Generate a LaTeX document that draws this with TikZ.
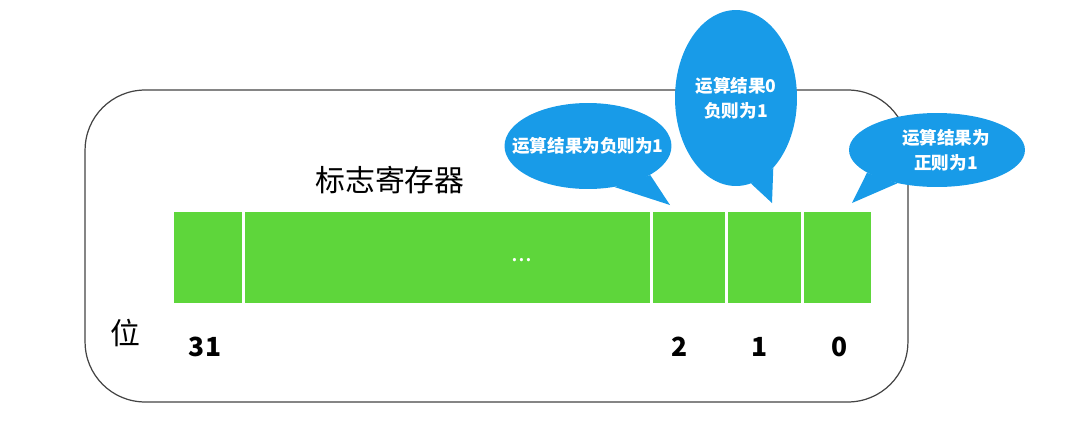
\documentclass[tikz,border=0pt]{standalone}
\usepackage{fontspec}
\setmainfont{Noto Sans CJK SC}
\usepackage{xcolor}
\usepackage{tikz}
\usetikzlibrary{shapes.geometric, positioning}
\definecolor{cellgreen}{HTML}{5ED63B}
\definecolor{bubbleblue}{HTML}{189BE8}
\definecolor{framegray}{HTML}{444444}
\tikzset{
  frame/.style={rectangle, draw=framegray, line width=0.7pt, rounded corners=1.2cm},
  cell/.style={rectangle, fill=cellgreen, inner sep=0pt, outer sep=0pt, minimum height=1.82cm},
  bubble/.style={ellipse, fill=bubbleblue, inner sep=0pt},
  bubbletext/.style={text=white, align=center, font=\fontsize{10}{14.5}\selectfont\bfseries},
  bitnum/.style={font=\fontsize{15}{18}\selectfont\bfseries},
  regtitle/.style={font=\fontsize{17}{20}\selectfont},
  dots/.style={text=white, font=\fontsize{14}{16}\selectfont},
}

\begin{document}
\begin{tikzpicture}[x=0.02cm, y=-0.02cm]
  \useasboundingbox (0,0) rectangle (1080,427);
  \node[frame, minimum width=16.46cm, minimum height=6.24cm] (reg) at (496.5,246) {};
  \node[regtitle] (regname) at (390,180) {标志寄存器};
  % register bits
  \node[cell, minimum width=1.36cm] (b31) at (208,257.5) {};
  \node[cell, minimum width=8.1cm, right=0.06cm of b31] (bmid) {};
  \node[cell, minimum width=1.44cm, right=0.06cm of bmid] (b2) {};
  \node[cell, minimum width=1.46cm, right=0.06cm of b2] (b1) {};
  \node[cell, minimum width=1.34cm, right=0.06cm of b1] (b0) {};
  \node[dots] (more) at (522,260) {...};
  % bit numbers
  \node[regtitle] (wei) at (125,333) {位};
  \node[bitnum] (n31) at (205,347) {31};
  \node[bitnum] (n2) at (680,347) {2};
  \node[bitnum] (n1) at (760,347) {1};
  \node[bitnum] (n0) at (840,347) {0};
  % speech bubbles
  \node[bubble, minimum width=3.34cm, minimum height=1.72cm,
        label={[bubbletext]center:运算结果为负则为1}] (neg) at (588,146) {};
  \coordinate (negtip) at (670,205);
  \fill[bubbleblue] (neg.-57) -- (negtip) -- (neg.-25) -- cycle;
  \node[bubble, minimum width=2.44cm, minimum height=3.52cm,
        label={[bubbletext]center:{运算结果0\\负则为1}}] (zero) at (736,98) {};
  \coordinate (zerotip) at (772,203);
  \fill[bubbleblue] (zero.-80) -- (zerotip) -- (zero.-62) -- cycle;
  \node[bubble, minimum width=3.52cm, minimum height=1.48cm,
        label={[bubbletext, xshift=0.18cm]center:{运算结果为\\正则为1}}] (pos) at (937,150) {};
  \coordinate (postip) at (852,203);
  \fill[bubbleblue] (pos.-162) -- (postip) -- (pos.-140) -- cycle;
\end{tikzpicture}
\end{document}
